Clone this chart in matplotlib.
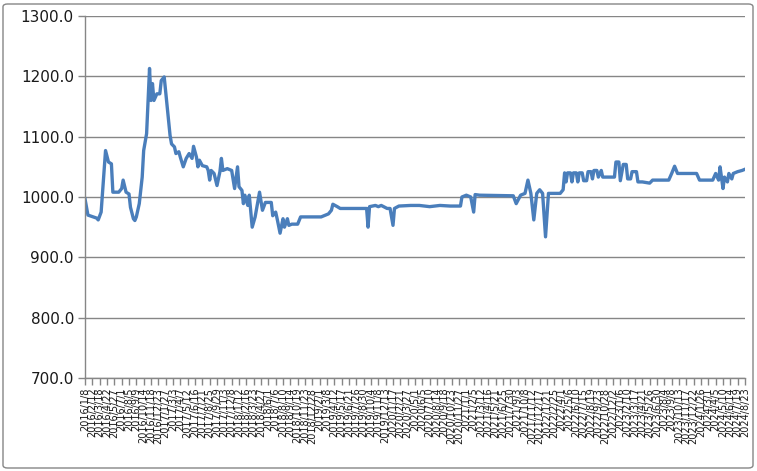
import matplotlib
matplotlib.use('Agg')
import matplotlib.pyplot as plt
import matplotlib.patches as patches
import numpy as np
import pandas as pd

# ── Data ──────────────────────────────────────────────────────────────────────
START = pd.Timestamp('2016-01-08')
N_WEEKS = 450  # last point 2024/8/23

# week offset from START -> value
week_idx = [
    0, 2, 8, 9, 11, 14, 16, 18, 19, 23, 25, 26, 28, 30, 31, 33, 34, 35, 37, 39,
    40, 42, 44, 45, 46, 47, 49, 51, 52, 54, 56, 57, 58, 59, 61, 62, 64, 65, 67, 69,
    71, 73, 74, 76, 77, 78, 80, 83, 84, 85, 86, 88, 90, 92, 93, 94, 97, 100, 102, 104,
    105, 107, 108, 109, 111, 112, 114, 116, 119, 121, 123, 127, 128, 130, 131, 133, 135, 136, 138, 139,
    141, 145, 147, 161, 164, 166, 168, 169, 172, 174, 192, 193, 194, 198, 200, 202, 206, 208, 210, 211,
    214, 222, 228, 235, 242, 249, 256, 257, 260, 263, 265, 266, 269, 292, 294, 297, 300, 302, 304, 306,
    308, 310, 312, 314, 316, 322, 324, 326, 327, 328, 329, 331, 332, 333, 335, 336, 337, 339, 340, 342,
    343, 345, 346, 347, 349, 350, 352, 353, 361, 362, 364, 365, 367, 369, 370, 372, 373, 376, 377, 380,
    385, 387, 398, 400, 402, 404, 417, 419, 428, 430, 432, 433, 435, 436, 438, 439, 441, 442, 445, 448,
    450,
]
values = [
    997, 970, 965, 962, 975, 1077, 1058, 1055, 1008, 1008, 1014, 1028, 1008, 1005, 983, 964, 961, 967, 989, 1033,
    1077, 1105, 1213, 1160, 1188, 1160, 1171, 1171, 1193, 1199, 1150, 1125, 1102, 1088, 1083, 1072, 1075, 1066, 1050, 1064,
    1072, 1064, 1084, 1066, 1050, 1061, 1052, 1050, 1044, 1028, 1044, 1039, 1019, 1042, 1064, 1044, 1047, 1044, 1014, 1050,
    1017, 1011, 989, 1003, 986, 1003, 950, 967, 1008, 978, 991, 991, 969, 975, 964, 940, 964, 950, 964, 953,
    955, 955, 967, 967, 970, 972, 978, 988, 984, 981, 981, 950, 984, 986, 984, 986, 981, 981, 953, 981,
    985, 986, 986, 984, 986, 985, 985, 1000, 1003, 1000, 975, 1004, 1003, 1002, 989, 1003, 1006, 1028, 1006, 962,
    1006, 1012, 1006, 934, 1006, 1006, 1006, 1012, 1040, 1025, 1040, 1040, 1025, 1040, 1040, 1025, 1040, 1040, 1027, 1027,
    1042, 1042, 1030, 1044, 1044, 1033, 1044, 1033, 1033, 1058, 1058, 1027, 1054, 1054, 1030, 1030, 1042, 1042, 1025, 1025,
    1023, 1028, 1028, 1039, 1051, 1039, 1039, 1028, 1028, 1039, 1028, 1050, 1014, 1033, 1025, 1039, 1030, 1039, 1042, 1044,
    1046,
]

TICK_EVERY = 5  # weeks between category labels
Y_MIN, Y_MAX, Y_STEP = 700, 1300, 100

LINE_COLOR = '#4A7EBB'
GRID_COLOR = '#868686'

# ── Plot ───────────────────────────────────────────────────────────────────────
dates = START + pd.to_timedelta(np.array(week_idx) * 7, unit='D')
tick_dates = START + pd.to_timedelta(np.arange(0, N_WEEKS + 1, TICK_EVERY) * 7, unit='D')
tick_labels = [f"{d.year}/{d.month}/{d.day}" for d in tick_dates]

fig = plt.figure(figsize=(7.57, 4.71), dpi=100)
ax = fig.add_axes([85 / 757, 1 - 378 / 471, 660 / 757, 362 / 471])

ax.plot(dates, values, color=LINE_COLOR, linewidth=2.4, solid_joinstyle='round')

ax.set_xlim(START, START + pd.Timedelta(days=7 * N_WEEKS))
ax.set_ylim(Y_MIN, Y_MAX)
yt = np.arange(Y_MIN, Y_MAX + 1, Y_STEP)
ax.set_yticks(yt)
ax.set_yticklabels([f"{v:.1f}" for v in yt], fontsize=11, color='#1A1A1A')
ax.set_xticks(tick_dates)
ax.set_xticklabels(tick_labels, rotation=90, fontsize=7, color='#1A1A1A')

ax.yaxis.grid(True, color=GRID_COLOR, linewidth=1.0)
ax.set_axisbelow(True)
for side in ('top', 'right'):
    ax.spines[side].set_visible(False)
for side in ('left', 'bottom'):
    ax.spines[side].set_color(GRID_COLOR)
    ax.spines[side].set_linewidth(1.0)
ax.tick_params(axis='both', color=GRID_COLOR, length=5, width=1.0)
ax.tick_params(axis='x', pad=2)
ax.tick_params(axis='y', pad=3)

# chart-area border
border = patches.FancyBboxPatch((3 / 757, 3 / 471), 750 / 757, 464 / 471,
                                boxstyle='round,pad=0,rounding_size=0.006',
                                transform=fig.transFigure, fill=False,
                                edgecolor=GRID_COLOR, linewidth=1.0)
fig.patches.append(border)

fig.savefig('out.png', dpi=100)
